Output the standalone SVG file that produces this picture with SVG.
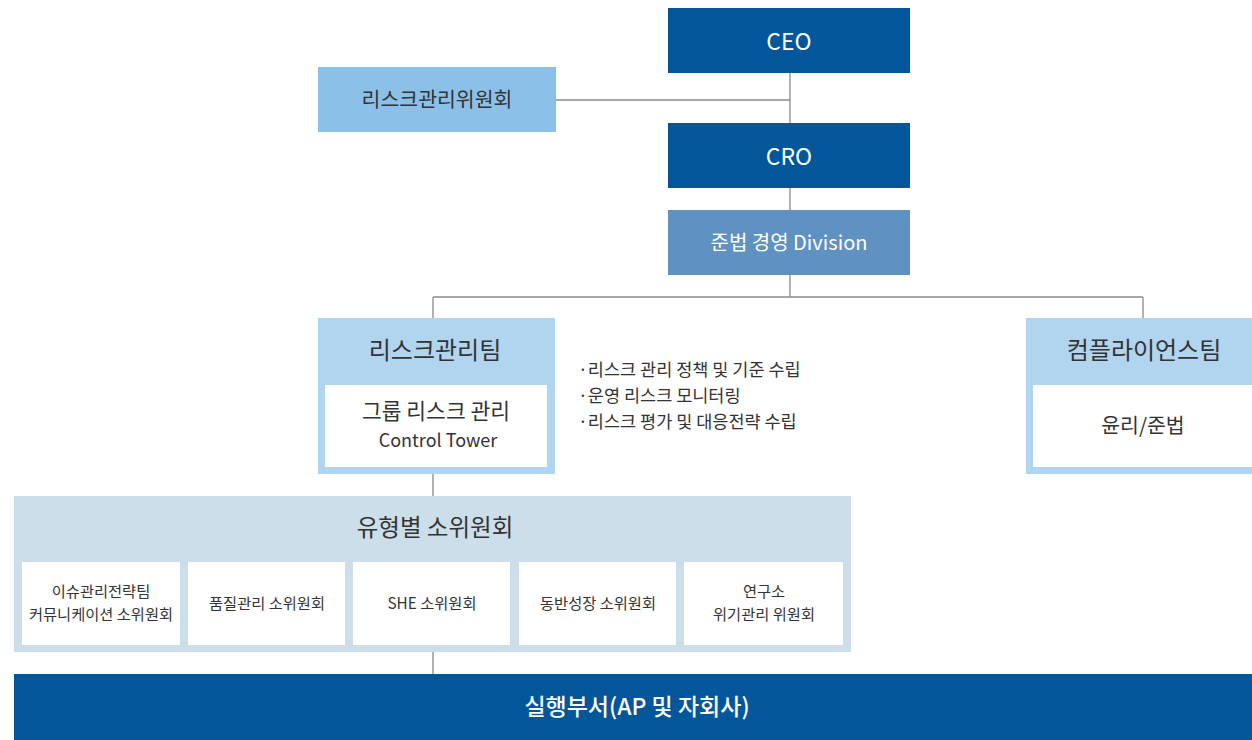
<svg xmlns="http://www.w3.org/2000/svg" width="1252" height="740" viewBox="0 0 1252 740">
<style>
text{font-family:"Noto Sans CJK KR","Noto Sans",sans-serif;text-anchor:middle;dominant-baseline:central}
.dark{fill:#02569a}
.w{fill:#fff}
.k{fill:#333}
.hdr{fill:#b1d4ef}
.sub{fill:#ffffff}
.ln{stroke:#8a8a8a;stroke-width:1.3;fill:none}
.s{font-size:15.3px}
.b{font-size:17.5px;text-anchor:start}
</style>
<rect width="1252" height="740" fill="#fff"/>
<g id="connectors">
<path class="ln" d="M790 73V123M556 100H790M790 188V210M790 275V297M433 297H1143M433 297V318M1143 297V318M433 474V496M433 652V674"/>
</g>
<g id="ceo"><rect class="dark" x="668" y="8" width="242" height="65"/><text class="w" x="789" y="40" font-size="23">CEO</text></g>
<g id="risk-committee"><rect x="318" y="67" width="238" height="65" fill="#8bc1e8"/><text class="k" x="437" y="98" font-size="20.5">리스크관리위원회</text></g>
<g id="cro"><rect class="dark" x="668" y="123" width="242" height="65"/><text class="w" x="789" y="155" font-size="23">CRO</text></g>
<g id="division"><rect x="668" y="210" width="242" height="65" fill="#5f92c0"/><text class="w" x="789" y="241" font-size="20">준법 경영 Division</text></g>
<g id="risk-team"><rect class="hdr" x="318" y="318" width="237" height="156"/><rect class="sub" x="325" y="385" width="222" height="82"/>
<text class="k" x="435" y="348" font-size="24">리스크관리팀</text>
<text class="k" x="436" y="409" font-size="21.5">그룹 리스크 관리</text>
<text class="k" x="438" y="439" font-size="18">Control Tower</text></g>
<g id="risk-team-notes"><text class="k b" x="578" y="368">·리스크 관리 정책 및 기준 수립</text>
<text class="k b" x="578" y="394">·운영 리스크 모니터링</text>
<text class="k b" x="578" y="420">·리스크 평가 및 대응전략 수립</text></g>
<g id="compliance-team"><rect class="hdr" x="1026" y="318" width="226" height="156"/><rect class="sub" x="1033" y="385" width="219" height="82"/>
<text class="k" x="1144" y="348" font-size="24">컴플라이언스팀</text>
<text class="k" x="1143" y="424" font-size="20.5">윤리/준법</text></g>
<g id="subcommittees"><rect x="14" y="496" width="837" height="156" fill="#cddeeb"/>
<text class="k" x="435" y="526" font-size="23.5">유형별 소위원회</text>
<rect class="sub" x="22" y="562" width="158" height="83"/>
<rect class="sub" x="188" y="562" width="157" height="83"/>
<rect class="sub" x="353" y="562" width="157" height="83"/>
<rect class="sub" x="519" y="562" width="157" height="83"/>
<rect class="sub" x="684" y="562" width="159" height="83"/>
<text class="k s" x="101" y="590">이슈관리전략팀</text>
<text class="k s" x="101" y="613">커뮤니케이션 소위원회</text>
<text class="k s" x="267" y="602">품질관리 소위원회</text>
<text class="k s" x="432" y="602">SHE 소위원회</text>
<text class="k s" x="598" y="602">동반성장 소위원회</text>
<text class="k s" x="764" y="590">연구소</text>
<text class="k s" x="764" y="613">위기관리 위원회</text></g>
<g id="execution"><rect class="dark" x="14" y="674" width="1238" height="66"/><text class="w" x="637" y="705" font-size="23" font-weight="500">실행부서(AP 및 자회사)</text></g>
</svg>
